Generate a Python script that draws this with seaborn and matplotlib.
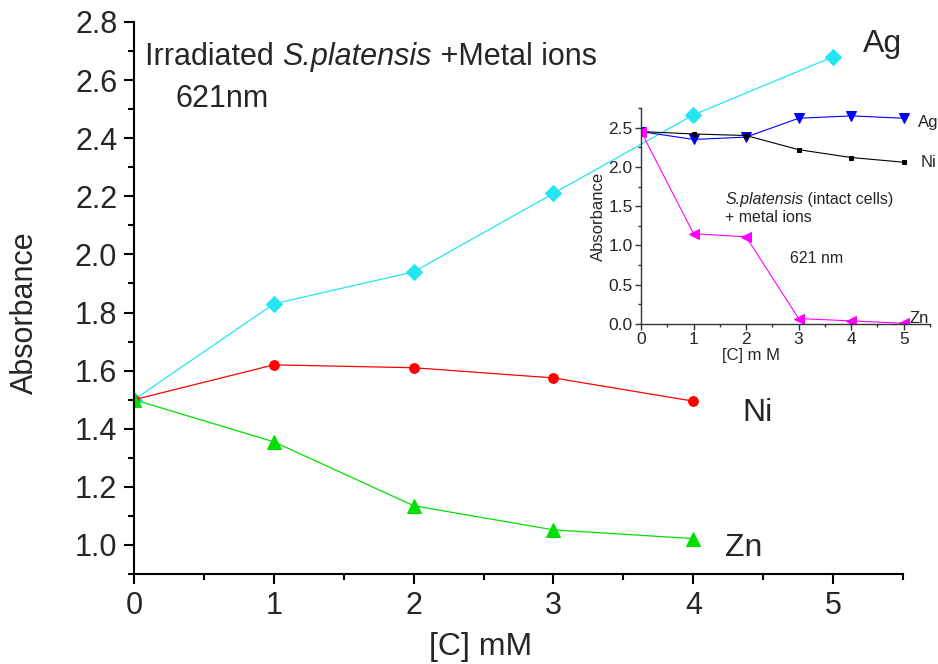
import numpy as np
import pandas as pd
import matplotlib
matplotlib.use("Agg")
import matplotlib.pyplot as plt
import seaborn as sns
from matplotlib.ticker import MultipleLocator, FormatStrFormatter
from matplotlib.transforms import offset_copy

sns.set_style("ticks")
plt.rcParams['font.family'] = ['Liberation Sans', 'DejaVu Sans']

# ---- main chart data (irradiated S.platensis, 621 nm) ----
conc_main = [0, 1, 2, 3, 4, 5]
ag_main = [1.50, 1.83, 1.94, 2.21, 2.48, 2.68]
conc_ni_zn = [0, 1, 2, 3, 4]
ni_main = [1.50, 1.62, 1.61, 1.575, 1.495]
zn_main = [1.50, 1.355, 1.135, 1.052, 1.022]

# ---- inset data (intact cells, 621 nm) ----
conc_inset = [0, 1, 2, 3, 4, 5]
ag_inset = [2.45, 2.35, 2.38, 2.62, 2.65, 2.62]
ni_inset = [2.45, 2.42, 2.40, 2.22, 2.12, 2.06]
zn_inset = [2.45, 1.15, 1.11, 0.07, 0.04, 0.01]

main_yticks = [1.0, 1.2, 1.4, 1.6, 1.8, 2.0, 2.2, 2.4, 2.6, 2.8]
main_xticks = [0, 1, 2, 3, 4, 5]
inset_yticks = [0.0, 0.5, 1.0, 1.5, 2.0, 2.5]
inset_xticks = [0, 1, 2, 3, 4, 5]

fig = plt.figure(figsize=(9.38, 6.64), dpi=100)
ax = fig.add_axes([0.1429, 0.1355, 0.8198, 0.8314])

def draw(axis, x, y, color, marker, ms, lw=0.9):
    df = pd.DataFrame({"x": x, "y": y})
    sns.lineplot(data=df, x="x", y="y", ax=axis, color=color, marker=marker,
                 markersize=ms, markeredgecolor=color, linewidth=lw)

def rich_text(axis, x, y, parts, fontsize):
    """Draw consecutive text pieces (text, style) starting at data (x, y)."""
    fig.canvas.draw()
    renderer = fig.canvas.get_renderer()
    trans = axis.transData
    dx = 0.0
    for txt, style in parts:
        t = axis.text(x, y, txt, fontsize=fontsize, fontstyle=style, va='center', ha='left',
                      transform=offset_copy(trans, fig=fig, x=dx, y=0, units='dots'))
        bb = t.get_window_extent(renderer=renderer)
        dx += bb.width

draw(ax, conc_main, ag_main, "#22E6F2", "D", 8)
draw(ax, conc_ni_zn, ni_main, "#FF0000", "o", 7)
draw(ax, conc_ni_zn, zn_main, "#00E000", "^", 10)

ax.set_xlim(0, 5.5)
ax.set_ylim(0.9, 2.8)
ax.set_xticks(main_xticks)
ax.set_yticks(main_yticks)
ax.xaxis.set_minor_locator(MultipleLocator(0.5))
ax.yaxis.set_minor_locator(MultipleLocator(0.1))
ax.yaxis.set_major_formatter(FormatStrFormatter('%.1f'))
ax.tick_params(axis='both', which='major', labelsize=22, length=7, width=1.5, direction='out', color='black', pad=5)
ax.tick_params(axis='both', which='minor', length=4, width=1.5, direction='out', color='black')
for s in ['top', 'right']:
    ax.spines[s].set_visible(False)
for s in ['left', 'bottom']:
    ax.spines[s].set_linewidth(1.5)
    ax.spines[s].set_color('black')
ax.set_xlabel("[C] mM", fontsize=23)
ax.set_ylabel("Absorbance", fontsize=22)
ax.xaxis.set_label_coords(0.451, -0.105)
ax.yaxis.set_label_coords(-0.122, 0.473)

ax.text(5.21, 2.725, "Ag", fontsize=23, va='center', ha='left')
ax.text(4.35, 1.455, "Ni", fontsize=23, va='center', ha='left')
ax.text(4.23, 0.99, "Zn", fontsize=23, va='center', ha='left')

# ---- inset ----
ins = fig.add_axes([0.6834, 0.5120, 0.3081, 0.3253])
ins.patch.set_alpha(0)
draw(ins, conc_inset, ag_inset, "#0000FF", "v", 7, lw=0.8)
draw(ins, conc_inset, ni_inset, "#000000", "s", 2.5, lw=0.8)
draw(ins, conc_inset, zn_inset, "#FF00FF", "<", 7, lw=0.8)
ins.set_xlim(0, 5.5)
ins.set_ylim(0, 2.75)
ins.set_xticks(inset_xticks)
ins.set_yticks(inset_yticks)
ins.xaxis.set_minor_locator(MultipleLocator(0.5))
ins.yaxis.set_minor_locator(MultipleLocator(0.25))
ins.yaxis.set_major_formatter(FormatStrFormatter('%.1f'))
ins.tick_params(axis='both', which='major', labelsize=12.5, length=4, width=1, direction='out', pad=2, color='#333333')
ins.tick_params(axis='both', which='minor', length=2.5, width=1, direction='out', color='#333333')
for s in ['top', 'right']:
    ins.spines[s].set_visible(False)
for s in ['left', 'bottom']:
    ins.spines[s].set_linewidth(1.0)
    ins.spines[s].set_color('#333333')
ins.set_xlabel("[C] m M", fontsize=12, labelpad=0)
ins.set_ylabel("Absorbance", fontsize=12, labelpad=2)
ins.xaxis.set_label_coords(0.38, -0.11)
ins.text(5.28, 2.57, "Ag", fontsize=12, va='center', ha='left')
ins.text(5.33, 2.06, "Ni", fontsize=12, va='center', ha='left')
ins.text(5.1, 0.07, "Zn", fontsize=12, va='center', ha='left')
ins.text(1.6, 1.35, "+ metal ions", fontsize=11.5, va='center', ha='left')
ins.text(2.84, 0.84, "621 nm", fontsize=11.5, va='center', ha='left')

rich_text(ax, 0.08, 2.68, [("Irradiated ", "normal"), ("S.platensis", "italic"), (" +Metal ions", "normal")], 22)
ax.text(0.30, 2.535, "621nm", fontsize=22, va='center', ha='left')
rich_text(ins, 1.6, 1.58, [("S.platensis", "italic"), (" (intact cells)", "normal")], 11.5)

fig.savefig("out.png", dpi=100)
